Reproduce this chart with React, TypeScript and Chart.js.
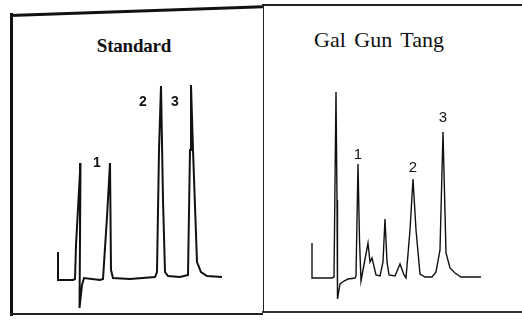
import React, { useEffect, useRef } from "react";
import { Chart, registerables } from "chart.js";

Chart.register(...registerables);

// Retention time (min) and detector signal (arbitrary units) for the standard run
const standardTimes = [4.6, 4.6, 6.1, 6.3, 6.4, 6.85, 6.8, 6.75, 7.0, 7.2, 8.8, 9.1, 9.5, 9.8, 9.9, 10.1, 11.8, 14.3, 14.5, 14.7, 14.9, 15.1, 15.3, 15.6, 16.8, 17.6, 17.8, 17.9, 18.1, 18.5, 18.9, 19.5, 21.0];
const standardSignal = [28, 0, 0, 1, 35, 117, 40, -28, -5, 2, 0, 1, 63, 117, 10, 2, 1, 3, 8, 130, 194, 80, 8, 4, 3, 5, 130, 195, 130, 18, 8, 4, 3];

// Retention time (min) and detector signal for the Gal Gun Tang sample
const sampleTimes = [4.8, 4.8, 6.8, 7.0, 7.2, 7.3, 7.35, 7.6, 8.0, 8.4, 9.1, 9.2, 9.4, 9.55, 9.7, 9.9, 10.4, 10.6, 10.8, 11.2, 11.6, 11.9, 12.1, 12.3, 12.5, 13.1, 13.6, 14.0, 14.2, 14.6, 14.9, 15.2, 15.6, 16.1, 16.8, 17.2, 17.6, 17.9, 18.2, 18.6, 19.1, 19.7, 21.7];
const sampleSignal = [35, 0, 0, 1, 186, 78, -21, -6, -3, -1, 0, 2, 114, 38, -3, 8, 35, 16, 20, 3, 2, 16, 59, 16, 3, 2, 14, 3, 0, 48, 99, 48, 4, 1, 1, 6, 28, 146, 25, 10, 5, 1, 1];

const peakNames = ["1", "2", "3"];
const standardPeakTimes = [9.8, 14.9, 17.9];
const samplePeakTimes = [9.4, 14.9, 17.9];

type LabelStyle = { font: string; offsets: [number, number][] };

function makeLabelPlugin(peakTimes: number[], style: LabelStyle) {
  return {
    id: "peakLabels",
    afterDatasetsDraw(chart: any) {
      const ctx = chart.ctx;
      const xs = chart.scales.x;
      const ys = chart.scales.y;
      const data = chart.data.datasets[0].data as { x: number; y: number }[];
      ctx.save();
      ctx.fillStyle = "#111";
      ctx.font = style.font;
      ctx.textAlign = "center";
      ctx.textBaseline = "middle";
      peakTimes.forEach((t, i) => {
        let best = data[0];
        data.forEach((p) => {
          if (Math.abs(p.x - t) < Math.abs(best.x - t) || (Math.abs(p.x - t) === Math.abs(best.x - t) && p.y > best.y)) best = p;
        });
        const px = xs.getPixelForValue(best.x) + style.offsets[i][0];
        const py = ys.getPixelForValue(best.y) + style.offsets[i][1];
        ctx.fillText(peakNames[i], px, py);
      });
      ctx.restore();
    },
  };
}

function Trace(props: {
  times: number[];
  signal: number[];
  peakTimes: number[];
  width: number;
  height: number;
  xMax: number;
  yMin: number;
  yMax: number;
  lineWidth: number;
  label: LabelStyle;
  style: React.CSSProperties;
}) {
  const ref = useRef<HTMLCanvasElement | null>(null);
  useEffect(() => {
    if (!ref.current) return;
    const points = props.times.map((t, i) => ({ x: t, y: props.signal[i] }));
    const chart = new Chart(ref.current, {
      type: "scatter",
      data: {
        datasets: [
          {
            data: points,
            showLine: true,
            borderColor: "#111",
            borderWidth: props.lineWidth,
            pointRadius: 0,
            tension: 0,
            borderJoinStyle: "miter",
          } as any,
        ],
      },
      options: {
        responsive: false,
        animation: false,
        devicePixelRatio: 1,
        layout: { padding: 0 },
        plugins: { legend: { display: false }, tooltip: { enabled: false }, title: { display: false } },
        scales: {
          x: { type: "linear", display: false, min: 0, max: props.xMax },
          y: { type: "linear", display: false, min: props.yMin, max: props.yMax },
        },
      },
      plugins: [makeLabelPlugin(props.peakTimes, props.label)],
    });
    return () => chart.destroy();
  }, []);
  return <canvas ref={ref} width={props.width} height={props.height} style={{ position: "absolute", ...props.style }} />;
}

export default function App() {
  return (
    <div style={{ position: "fixed", left: 0, top: 0, width: 522, height: 320, background: "#fff", overflow: "hidden" }}>
      {/* frame */}
      <div style={{ position: "absolute", left: 10, top: 14, width: 253, height: 2.5, background: "#111", transform: "rotate(-2deg)", transformOrigin: "0 0" }} />
      <div style={{ position: "absolute", left: 262, top: 4, width: 260, height: 1.5, background: "#222" }} />
      <div style={{ position: "absolute", left: 10, top: 13, width: 3, height: 303, background: "#111" }} />
      <div style={{ position: "absolute", left: 10, top: 313, width: 253, height: 2, background: "#222" }} />
      <div style={{ position: "absolute", left: 262, top: 311, width: 260, height: 1.5, background: "#333" }} />
      <div style={{ position: "absolute", left: 263, top: 5, width: 1, height: 307, background: "#222" }} />
      {/* titles */}
      <div style={{ position: "absolute", left: 34, width: 200, top: 36, textAlign: "center", fontFamily: "'Liberation Serif', serif", fontWeight: "bold", fontSize: 19, lineHeight: 1, letterSpacing: -0.2, color: "#111" }}>Standard</div>
      <div style={{ position: "absolute", left: 279, width: 200, top: 29, textAlign: "center", fontFamily: "'Liberation Serif', serif", fontSize: 22, lineHeight: 1, wordSpacing: 3, color: "#111" }}>Gal Gun Tang</div>
      <Trace
        times={standardTimes}
        signal={standardSignal}
        peakTimes={standardPeakTimes}
        width={251}
        height={303}
        xMax={25.1}
        yMin={-35}
        yMax={268}
        lineWidth={2}
        label={{ font: "bold 14px 'Liberation Sans', sans-serif", offsets: [[-13, 0], [-18, 16], [-16, 17]] }}
        style={{ left: 12, top: 12 }}
      />
      <Trace
        times={sampleTimes}
        signal={sampleSignal}
        peakTimes={samplePeakTimes}
        width={258}
        height={307}
        xMax={25.8}
        yMin={-35}
        yMax={272}
        lineWidth={1.4}
        label={{ font: "15px 'Liberation Sans', sans-serif", offsets: [[0, -9], [0, -11], [0, -14]] }}
        style={{ left: 264, top: 6 }}
      />
    </div>
  );
}
